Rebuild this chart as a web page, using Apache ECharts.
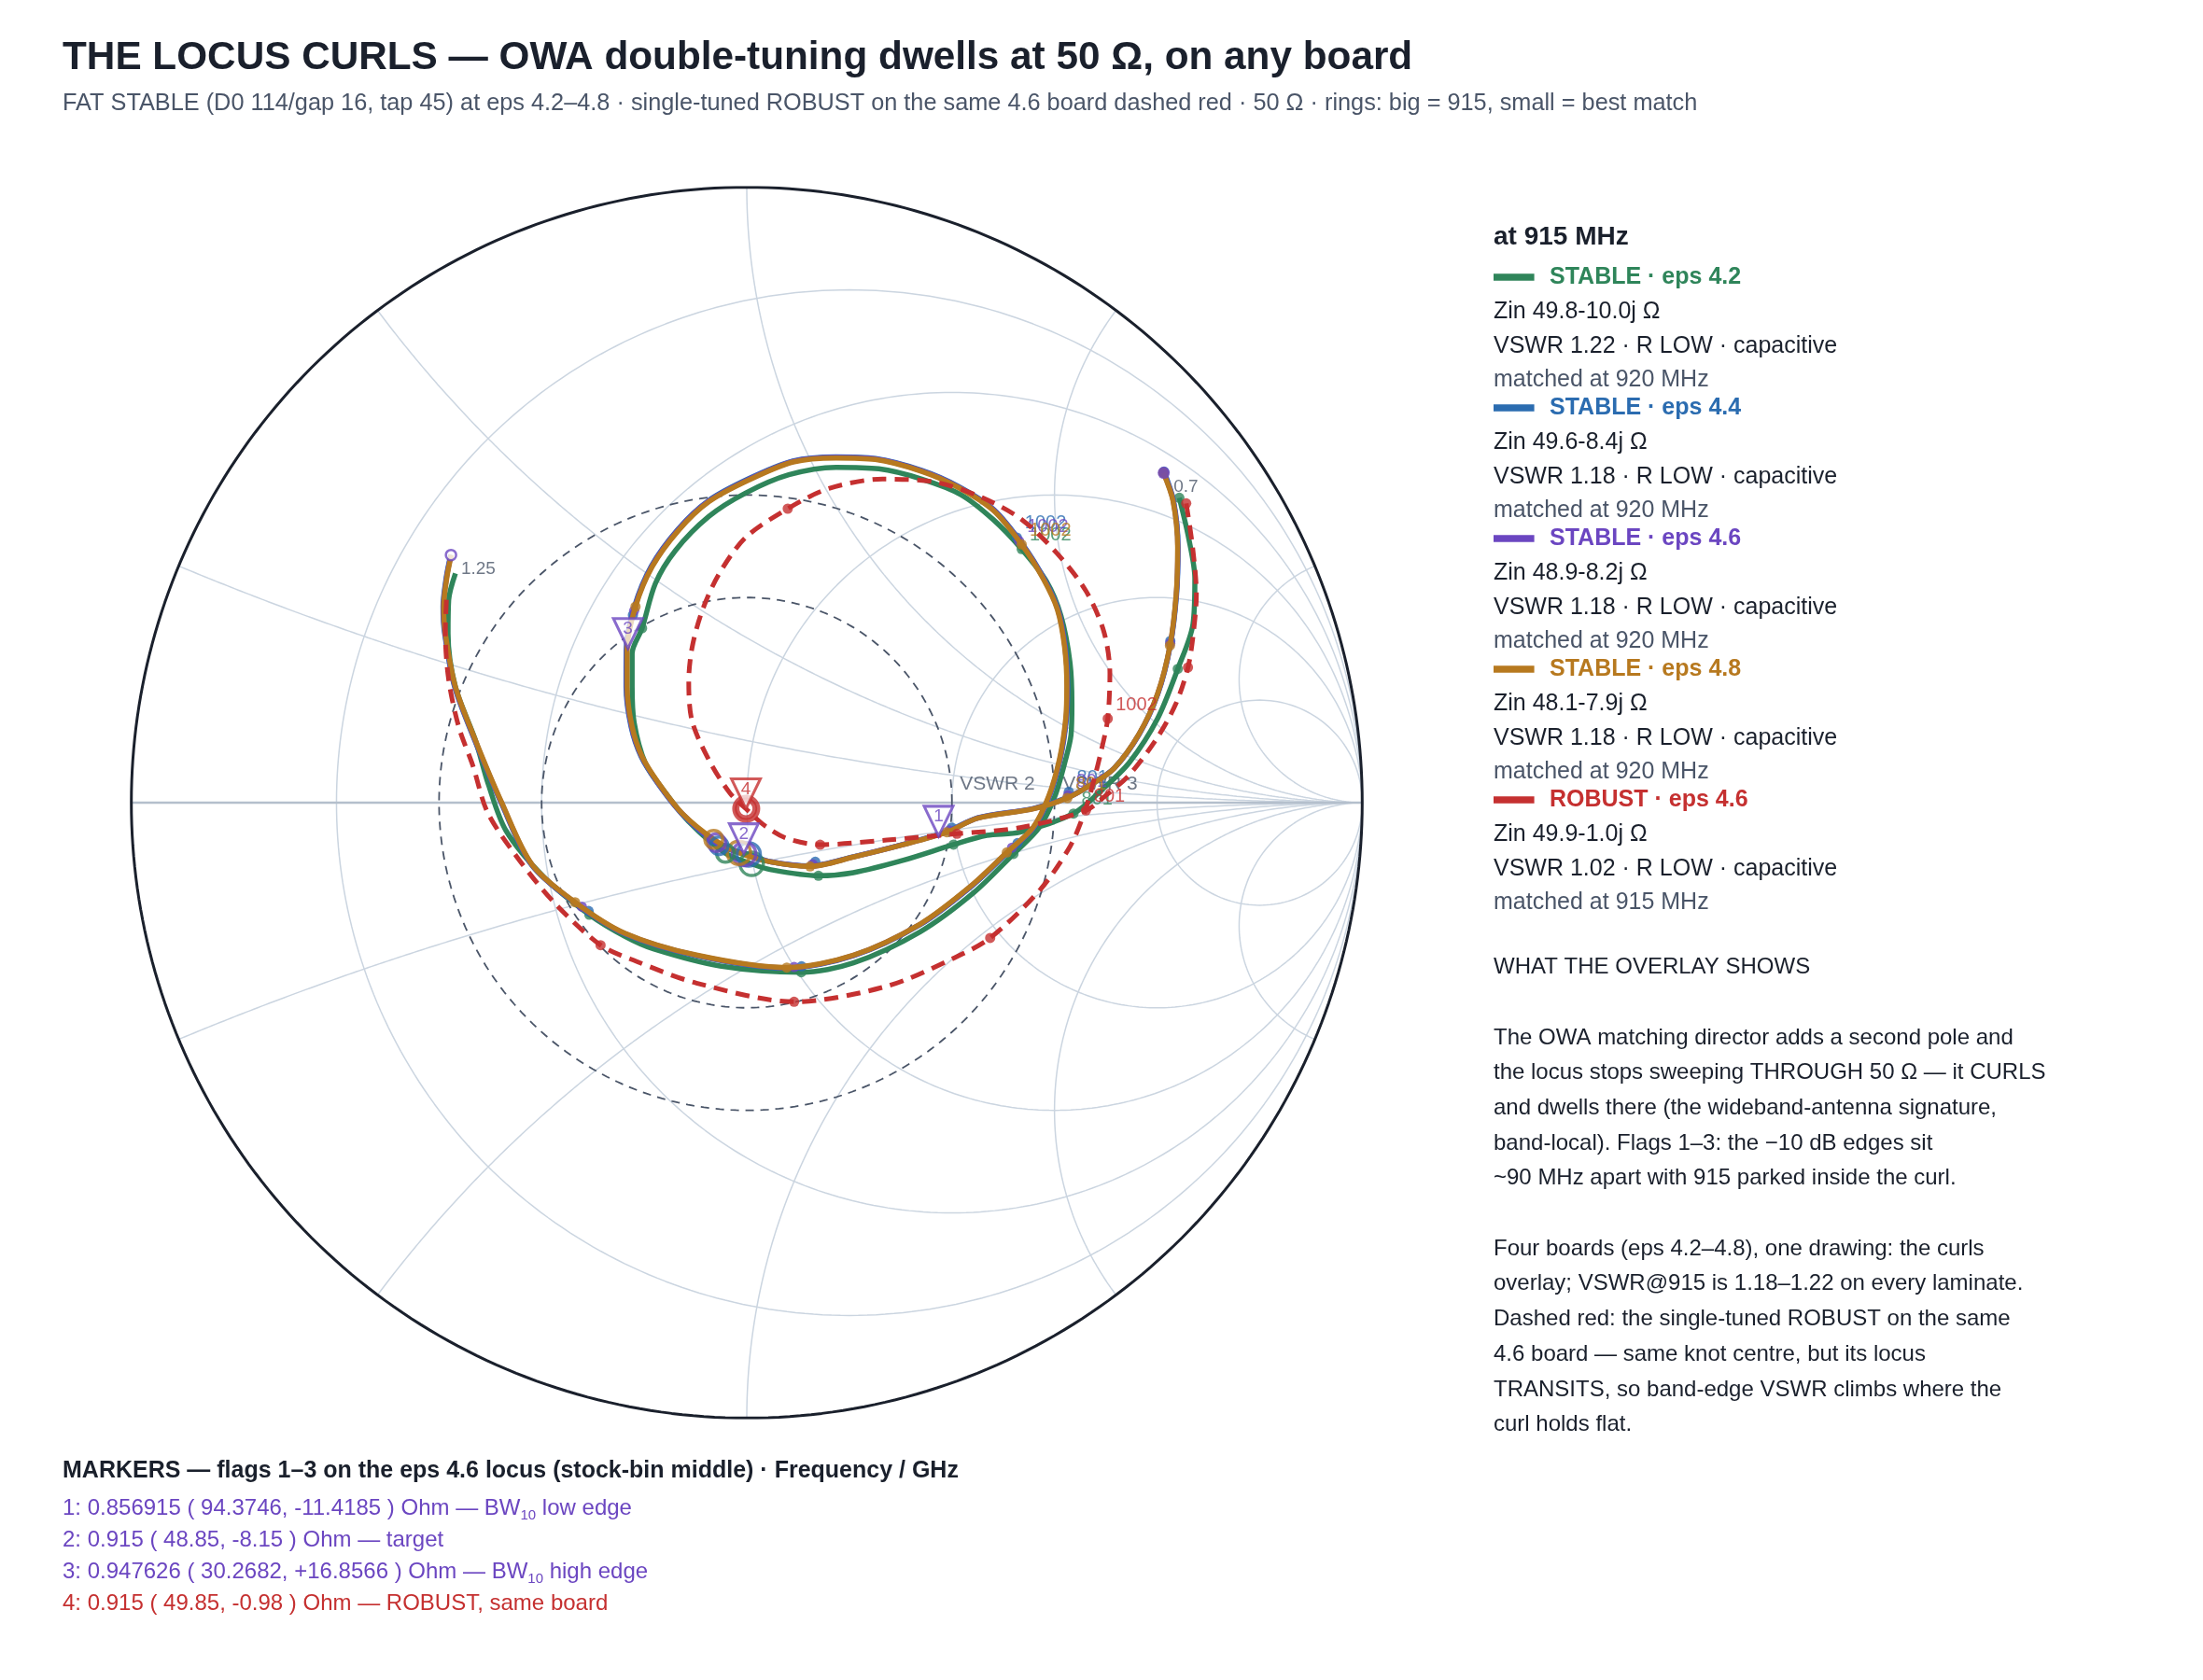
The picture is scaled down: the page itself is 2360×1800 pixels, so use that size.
<!DOCTYPE html>
<html>
<head>
<meta charset="utf-8">
<script src="https://cdn.jsdelivr.net/npm/echarts@6/dist/echarts.min.js"></script>
<style>
  html, body { margin: 0; padding: 0; background: #fff; }
  #main { width: 2360px; height: 1800px; }
</style>
</head>
<body>
<div id="main"></div>
<script>
// reflection-coefficient points [re, im], 0.70 -> 1.25 GHz
var locus42 = [[0.7028,0.4955],[0.7180,0.4300],[0.7281,0.3640],[0.7250,0.2900],[0.7003,0.2174],[0.6674,0.1365],[0.6219,0.0657],[0.5764,0.0202],[0.5309,-0.0177],[0.4442,-0.0480],[0.3900,-0.0531],[0.3359,-0.0682],[0.2546,-0.0935],[0.1733,-0.1137],[0.1165,-0.1188],[0.0379,-0.1087],[0.0080,-0.0994],[-0.0347,-0.0823],[-0.0950,-0.0300],[-0.1350,0.0200],[-0.1647,0.0639],[-0.1830,0.1300],[-0.1863,0.1900],[-0.1863,0.2427],[-0.1701,0.2835],[-0.1484,0.3564],[-0.1158,0.4100],[-0.0618,0.4650],[-0.0022,0.5030],[0.0683,0.5328],[0.1449,0.5450],[0.2146,0.5425],[0.2843,0.5258],[0.3481,0.5005],[0.4004,0.4601],[0.4467,0.4120],[0.4874,0.3589],[0.5106,0.3033],[0.5252,0.2275],[0.5283,0.1600],[0.5268,0.1100],[0.5182,0.0708],[0.5005,0.0101],[0.4752,-0.0404],[0.4333,-0.0834],[0.3683,-0.1466],[0.2818,-0.2098],[0.1733,-0.2604],[0.0886,-0.2756],[-0.0434,-0.2654],[-0.1517,-0.2376],[-0.1978,-0.2174],[-0.2558,-0.1820],[-0.3293,-0.1213],[-0.3912,-0.0455],[-0.4200,0.0300],[-0.4410,0.1017],[-0.4735,0.1884],[-0.4854,0.2751],[-0.4844,0.3294],[-0.4734,0.3727]];
var locus44 = [[0.6780,0.5380],[0.6935,0.4906],[0.7008,0.4146],[0.6984,0.3387],[0.6882,0.2553],[0.6680,0.1769],[0.6378,0.1115],[0.5972,0.0562],[0.5618,0.0310],[0.5215,0.0085],[0.4662,-0.0092],[0.3752,-0.0246],[0.3250,-0.0470],[0.2546,-0.0676],[0.1733,-0.0878],[0.1029,-0.1028],[0.0385,-0.0960],[0.0031,-0.0841],[-0.0450,-0.0700],[-0.1065,-0.0170],[-0.1448,0.0315],[-0.1718,0.0750],[-0.1880,0.1232],[-0.1962,0.1885],[-0.1960,0.2481],[-0.1825,0.3190],[-0.1552,0.3845],[-0.1118,0.4445],[-0.0628,0.4905],[0.0025,0.5262],[0.0748,0.5552],[0.1449,0.5620],[0.2092,0.5592],[0.2850,0.5398],[0.3432,0.5143],[0.4015,0.4763],[0.4478,0.4205],[0.4828,0.3648],[0.5060,0.3140],[0.5178,0.2530],[0.5215,0.1900],[0.5195,0.1365],[0.5094,0.0706],[0.4916,0.0098],[0.4662,-0.0408],[0.4236,-0.0812],[0.3638,-0.1370],[0.2826,-0.1978],[0.1738,-0.2486],[0.0652,-0.2690],[-0.0818,-0.2487],[-0.1985,-0.2132],[-0.2798,-0.1625],[-0.3498,-0.1010],[-0.3988,-0.0011],[-0.4422,0.1017],[-0.4748,0.1884],[-0.4910,0.2751],[-0.4936,0.3185],[-0.4882,0.3672],[-0.4810,0.4030]];
var locus46 = [[0.6775,0.5360],[0.6930,0.4906],[0.7004,0.4146],[0.6980,0.3387],[0.6879,0.2553],[0.6677,0.1769],[0.6374,0.1113],[0.5970,0.0559],[0.5615,0.0306],[0.5212,0.0080],[0.4660,-0.0097],[0.3751,-0.0250],[0.3250,-0.0475],[0.2546,-0.0679],[0.1733,-0.0881],[0.1029,-0.1032],[0.0382,-0.0960],[-0.0048,-0.0828],[-0.0490,-0.0650],[-0.1058,-0.0171],[-0.1439,0.0313],[-0.1709,0.0748],[-0.1872,0.1232],[-0.1953,0.1885],[-0.1952,0.2481],[-0.1816,0.3188],[-0.1544,0.3840],[-0.1111,0.4438],[-0.0622,0.4898],[0.0030,0.5253],[0.0750,0.5544],[0.1449,0.5611],[0.2090,0.5585],[0.2846,0.5391],[0.3428,0.5137],[0.4010,0.4758],[0.4472,0.4200],[0.4822,0.3644],[0.5054,0.3137],[0.5171,0.2528],[0.5208,0.1900],[0.5189,0.1365],[0.5088,0.0707],[0.4910,0.0100],[0.4657,-0.0406],[0.4230,-0.0810],[0.3634,-0.1368],[0.2822,-0.1975],[0.1736,-0.2482],[0.0651,-0.2685],[-0.0818,-0.2482],[-0.1982,-0.2128],[-0.2794,-0.1622],[-0.3494,-0.1008],[-0.3982,-0.0011],[-0.4416,0.1017],[-0.4742,0.1884],[-0.4904,0.2751],[-0.4930,0.3185],[-0.4876,0.3672],[-0.4806,0.4025]];
var locus48 = [[0.6770,0.5360],[0.6925,0.4906],[0.7001,0.4146],[0.6977,0.3387],[0.6876,0.2553],[0.6674,0.1769],[0.6371,0.1112],[0.5967,0.0556],[0.5613,0.0303],[0.5209,0.0076],[0.4658,-0.0101],[0.3750,-0.0253],[0.3250,-0.0480],[0.2546,-0.0682],[0.1733,-0.0884],[0.1029,-0.1036],[0.0379,-0.0961],[-0.0128,-0.0816],[-0.0537,-0.0596],[-0.1051,-0.0173],[-0.1430,0.0312],[-0.1700,0.0747],[-0.1863,0.1232],[-0.1944,0.1885],[-0.1944,0.2481],[-0.1808,0.3185],[-0.1537,0.3835],[-0.1104,0.4431],[-0.0616,0.4891],[0.0034,0.5244],[0.0752,0.5536],[0.1449,0.5602],[0.2088,0.5577],[0.2843,0.5384],[0.3423,0.5131],[0.4004,0.4752],[0.4467,0.4196],[0.4816,0.3640],[0.5048,0.3134],[0.5164,0.2527],[0.5200,0.1900],[0.5182,0.1365],[0.5081,0.0708],[0.4904,0.0101],[0.4651,-0.0404],[0.4225,-0.0809],[0.3629,-0.1365],[0.2818,-0.1972],[0.1733,-0.2478],[0.0650,-0.2680],[-0.0817,-0.2477],[-0.1978,-0.2123],[-0.2790,-0.1618],[-0.3489,-0.1006],[-0.3976,-0.0011],[-0.4410,0.1017],[-0.4735,0.1884],[-0.4898,0.2751],[-0.4925,0.3185],[-0.4871,0.3672],[-0.4800,0.4025]];
var locusRobust = [[0.7140,0.4864],[0.7245,0.4146],[0.7306,0.3387],[0.7250,0.2700],[0.7169,0.2199],[0.6977,0.1618],[0.6674,0.1062],[0.6219,0.0455],[0.5815,0.0101],[0.5511,-0.0126],[0.4442,-0.0405],[0.3415,-0.0505],[0.2276,-0.0607],[0.1192,-0.0683],[0.0650,-0.0581],[0.0300,-0.0380],[-0.0014,-0.0098],[-0.0271,0.0152],[-0.0596,0.0657],[-0.0889,0.1327],[-0.0943,0.1977],[-0.0889,0.2519],[-0.0726,0.3115],[-0.0455,0.3710],[-0.0022,0.4306],[0.0666,0.4778],[0.1334,0.5106],[0.2205,0.5258],[0.3075,0.5207],[0.3830,0.4955],[0.4468,0.4601],[0.5048,0.4044],[0.5512,0.3438],[0.5802,0.2780],[0.5900,0.2100],[0.5865,0.1365],[0.5763,0.0859],[0.5637,0.0354],[0.5490,-0.0150],[0.5254,-0.0708],[0.4766,-0.1415],[0.3955,-0.2199],[0.3359,-0.2528],[0.2276,-0.2983],[0.0769,-0.3236],[-0.0817,-0.2932],[-0.1796,-0.2578],[-0.2376,-0.2315],[-0.3134,-0.1618],[-0.3751,-0.0860],[-0.4215,-0.0152],[-0.4450,0.0600],[-0.4681,0.1235],[-0.4844,0.2000],[-0.4898,0.2751],[-0.4880,0.3300]];

// sample dots (MHz) on each locus
var dotFreqs = [700, 750, 801, 851, 901, 951, 1002, 1052, 1102, 1153];
var taggedFreqs = [801, 1002];
var dots42 = [[0.7028,0.4955],[0.7003,0.2174],[0.5309,-0.0177],[0.3359,-0.0682],[0.1165,-0.1188],[-0.1701,0.2835],[0.4467,0.4120],[0.4333,-0.0834],[0.0886,-0.2756],[-0.2558,-0.1820]];
var dots44 = [[0.6780,0.5380],[0.6882,0.2629],[0.5233,0.0177],[0.3331,-0.0405],[0.1113,-0.0961],[-0.1850,0.3050],[0.4389,0.4308],[0.4400,-0.0657],[0.0890,-0.2660],[-0.2570,-0.1760]];
var dots46 = [[0.6775,0.5360],[0.6880,0.2590],[0.5220,0.0120],[0.3290,-0.0450],[0.1070,-0.1000],[-0.1830,0.3120],[0.4424,0.4253],[0.4310,-0.0730],[0.0770,-0.2670],[-0.2680,-0.1690]];
var dots48 = [[0.6770,0.5360],[0.6876,0.2553],[0.5209,0.0076],[0.3250,-0.0480],[0.1029,-0.1036],[-0.1808,0.3185],[0.4467,0.4196],[0.4225,-0.0809],[0.0650,-0.2680],[-0.2790,-0.1618]];
var dotsRobust = [[0.7140,0.4864],[0.7169,0.2199],[0.5511,-0.0126],[0.3415,-0.0505],[0.1192,-0.0683],[0.0666,0.4778],[0.5865,0.1365],[0.3955,-0.2199],[0.0769,-0.3236],[-0.2376,-0.2315]];

// best-match rings (920 MHz for STABLE, 915 for ROBUST)
var bestMatch = [[-0.0347,-0.0823],[-0.0450,-0.0700],[-0.0490,-0.0650],[-0.0537,-0.0596],[-0.0014,-0.0098]];

// legend table at 915 MHz
var boardNames = ['STABLE · eps 4.2', 'STABLE · eps 4.4', 'STABLE · eps 4.6', 'STABLE · eps 4.8', 'ROBUST · eps 4.6'];
var zinR = [49.8, 49.6, 48.9, 48.1, 49.9];
var zinX = [-10.0, -8.4, -8.2, -7.9, -1.0];
var vswr915 = [1.22, 1.18, 1.18, 1.18, 1.02];
var matchedAt = [920, 920, 920, 920, 915];

// marker flags
var markerFreq = ['0.856915', '0.915', '0.947626', '0.915'];
var markerR = [94.3746, 48.85, 30.2682, 49.85];
var markerX = [-11.4185, -8.15, 16.8566, -0.98];
var markerBw = [true, false, true, false];
var markerNote = ['low edge', 'target', 'high edge', 'ROBUST, same board'];

// smith grid values
var rGrid = [0.2, 0.5, 1, 2, 5];
var xGrid = [0.2, 0.5, 1, 2, 5, -0.2, -0.5, -1, -2, -5];
var vswrRings = [2, 3];

var FONT = '"Liberation Sans", Arial, Helvetica, sans-serif';
var GREEN = '#2f855a', BLUE = '#2b6cb0', PURPLE = '#6b46c1', GOLD = '#b7791f', RED = '#c53030';
var INK = '#1a202c', SLATE = '#4a5568';
var colors = [GREEN, BLUE, PURPLE, GOLD, RED];

// z = R + jX (ohms) -> reflection coefficient
function gammaOf(r, x) {
  var den = (r + 1) * (r + 1) + x * x;
  return [((r - 1) * (r + 1) + x * x) / den, (2 * x) / den];
}
function zToGamma(R, X) { return gammaOf(R / 50, X / 50); }

function rCircle(r) {
  var pts = [], c = r / (r + 1), rad = 1 / (r + 1);
  for (var i = 0; i <= 360; i++) {
    var t = i * Math.PI / 180;
    pts.push([c + rad * Math.cos(t), rad * Math.sin(t)]);
  }
  return pts;
}
function xArc(x) {
  var pts = [], cy = 1 / x, rad = Math.abs(1 / x);
  var e = gammaOf(0, x);
  var a0 = Math.atan2(e[1] - cy, e[0] - 1);
  if (a0 < 0) a0 += 2 * Math.PI;
  var a1 = x > 0 ? 1.5 * Math.PI : 0.5 * Math.PI;
  for (var i = 0; i <= 300; i++) {
    var a = a0 + (a1 - a0) * i / 300;
    pts.push([1 + rad * Math.cos(a), cy + rad * Math.sin(a)]);
  }
  return pts;
}
function ring(g) {
  var pts = [];
  for (var i = 0; i <= 360; i++) {
    var t = i * Math.PI / 180;
    pts.push([g * Math.cos(t), g * Math.sin(t)]);
  }
  return pts;
}

var chartDom = document.getElementById('main');
var myChart = echarts.init(chartDom, null, { renderer: 'canvas' });

var series = [];

// grid
rGrid.forEach(function(r) {
  series.push({ type: 'line', data: rCircle(r), symbol: 'none', silent: true, z: 1,
    lineStyle: { color: '#cbd5e0', width: 1.5 } });
});
xGrid.forEach(function(x) {
  series.push({ type: 'line', data: xArc(x), symbol: 'none', silent: true, z: 1,
    lineStyle: { color: '#cbd5e0', width: 1.5 } });
});
series.push({ type: 'line', data: [[-1, 0], [1, 0]], symbol: 'none', silent: true, z: 2,
  lineStyle: { color: '#b4bfcc', width: 2.5 } });
series.push({ type: 'line', data: rCircle(0), symbol: 'none', silent: true, z: 3,
  lineStyle: { color: INK, width: 3 } });

// constant VSWR rings
vswrRings.forEach(function(s) {
  var g = (s - 1) / (s + 1);
  series.push({ type: 'line', data: ring(g), symbol: 'none', silent: true, z: 4,
    lineStyle: { color: SLATE, width: 1.8, type: [9, 7] } });
  series.push({ type: 'scatter', data: [[g, 0]], symbolSize: 1, z: 4, silent: true,
    itemStyle: { color: 'rgba(0,0,0,0)' },
    label: { show: true, formatter: 'VSWR ' + s, position: 'right', distance: 8, offset: [0, -20],
      color: SLATE, fontSize: 21, fontFamily: FONT } });
});

var loci = [locus42, locus44, locus46, locus48, locusRobust];
var dots = [dots42, dots44, dots46, dots48, dotsRobust];

loci.forEach(function(pts, k) {
  var robust = k === 4;
  series.push({ type: 'line', name: boardNames[k], data: pts, smooth: 0.3, symbol: 'none',
    silent: true, z: 10 + k,
    lineStyle: { color: colors[k], width: robust ? 5 : 5.5, type: robust ? [15, 9] : 'solid' } });
  series.push({ type: 'scatter', silent: true, z: 10 + k, symbolSize: 11,
    itemStyle: { color: colors[k] },
    data: dots[k].map(function(p, i) {
      var item = { value: p };
      if (taggedFreqs.indexOf(dotFreqs[i]) >= 0) {
        item.label = { show: true, formatter: String(dotFreqs[i]), position: 'right', distance: 3,
          offset: [0, -15], color: colors[k], fontSize: 20, fontFamily: FONT };
      }
      return item;
    }) });
});

// start / end of the eps 4.6 locus
series.push({ type: 'scatter', silent: true, z: 20, data: [
  { value: locus46[0], symbolSize: 13, itemStyle: { color: PURPLE },
    label: { show: true, formatter: '0.7', position: 'right', distance: 4, offset: [0, 15], color: SLATE, fontSize: 19, fontFamily: FONT } },
  { value: locus46[locus46.length - 1], symbolSize: 11, itemStyle: { color: '#fff', borderColor: PURPLE, borderWidth: 2.5 },
    label: { show: true, formatter: '1.25', position: 'right', distance: 4, offset: [0, 15], color: SLATE, fontSize: 19, fontFamily: FONT } }
] });

// rings: big = 915, small = best match
series.push({ type: 'scatter', silent: true, z: 22, symbolSize: 25,
  itemStyle: { color: 'rgba(0,0,0,0)', borderWidth: 3.5 },
  data: zinR.map(function(R, k) {
    return { value: zToGamma(R, zinX[k]), itemStyle: { borderColor: colors[k], borderWidth: k === 4 ? 5 : 3.5 } };
  }) });
series.push({ type: 'scatter', silent: true, z: 22, symbolSize: 19,
  itemStyle: { color: 'rgba(0,0,0,0)', borderWidth: 3.5 },
  data: bestMatch.map(function(p, k) {
    return { value: p, itemStyle: { borderColor: colors[k], borderWidth: k === 4 ? 5 : 3.5 } };
  }) });

// flags
series.push({ type: 'scatter', silent: true, z: 30,
  symbol: 'path://M0,0L30,0L15,32Z', symbolSize: [31, 32], symbolOffset: [0, -16],
  data: markerR.map(function(R, i) {
    var c = i === 3 ? RED : PURPLE;
    return { value: zToGamma(R, markerX[i]),
      itemStyle: { color: 'rgba(255,255,255,0.9)', borderColor: c, borderWidth: 3 },
      label: { show: true, formatter: String(i + 1), position: 'inside', offset: [0, -5],
        color: c, fontSize: 19, fontFamily: FONT } };
  }) });

// ---- side texts ----
var graphic = [];
function txt(x, y, text, font, fill) {
  graphic.push({ type: 'text', x: x, y: y, silent: true,
    style: { text: text, font: font, fill: fill, textAlign: 'left', textVerticalAlign: 'middle',
      align: 'left', verticalAlign: 'middle' } });
}

txt(67, 62, 'THE LOCUS CURLS — OWA double-tuning dwells at 50 Ω, on any board', 'bold 42.3px ' + FONT, INK);
txt(67, 111, 'FAT STABLE (D0 114/gap 16, tap 45) at eps 4.2–4.8 · single-tuned ROBUST on the same 4.6 board dashed red · 50 Ω · rings: big = 915, small = best match', '25.3px ' + FONT, SLATE);

txt(1600, 254, 'at 915 MHz', 'bold 28px ' + FONT, INK);
boardNames.forEach(function(name, k) {
  var y0 = 297 + k * 140;
  graphic.push({ type: 'rect', silent: true, shape: { x: 1600, y: y0 - 3.8, width: 43.6, height: 7.6 },
    style: { fill: colors[k] } });
  txt(1660, y0, name, 'bold 25px ' + FONT, colors[k]);
  var xs = (zinX[k] < 0 ? '-' : '+') + Math.abs(zinX[k]).toFixed(1);
  txt(1600, y0 + 37.6, 'Zin ' + zinR[k].toFixed(1) + xs + 'j Ω', '25px ' + FONT, INK);
  txt(1600, y0 + 73.8, 'VSWR ' + vswr915[k].toFixed(2) + ' · ' + (zinR[k] < 50 ? 'R LOW' : 'R HIGH') + ' · ' +
    (zinX[k] < 0 ? 'capacitive' : 'inductive'), '25px ' + FONT, INK);
  txt(1600, y0 + 110, 'matched at ' + matchedAt[k] + ' MHz', '25px ' + FONT, SLATE);
});

var notes = [
  'WHAT THE OVERLAY SHOWS',
  '',
  'The OWA matching director adds a second pole and',
  'the locus stops sweeping THROUGH 50 Ω — it CURLS',
  'and dwells there (the wideband-antenna signature,',
  'band-local). Flags 1–3: the −10 dB edges sit',
  '~90 MHz apart with 915 parked inside the curl.',
  '',
  'Four boards (eps 4.2–4.8), one drawing: the curls',
  'overlay; VSWR@915 is 1.18–1.22 on every laminate.',
  'Dashed red: the single-tuned ROBUST on the same',
  '4.6 board — same knot centre, but its locus',
  'TRANSITS, so band-edge VSWR climbs where the',
  'curl holds flat.'
];
notes.forEach(function(line, i) {
  if (line) txt(1600, 1036.5 + i * 37.7, line, '24px ' + FONT, INK);
});

txt(67, 1576, 'MARKERS — flags 1–3 on the eps 4.6 locus (stock-bin middle) · Frequency / GHz', 'bold 25px ' + FONT, INK);
markerR.forEach(function(R, i) {
  var c = i === 3 ? RED : PURPLE;
  var xs = markerX[i] > 0 ? '+' + markerX[i] : String(markerX[i]);
  var head = (i + 1) + ': ' + markerFreq[i] + ' ( ' + R + ', ' + xs + ' ) Ohm — ';
  var text = markerBw[i] ? '{a|' + head + 'BW}{s|10}{a| ' + markerNote[i] + '}' : '{a|' + head + markerNote[i] + '}';
  graphic.push({ type: 'text', x: 67, y: 1616 + i * 34, silent: true,
    style: { text: text, textAlign: 'left', textVerticalAlign: 'middle', align: 'left', verticalAlign: 'middle',
      rich: {
        a: { fontSize: 24, fontFamily: FONT, fill: c, lineHeight: 30 },
        s: { fontSize: 15, fontFamily: FONT, fill: c, lineHeight: 30, verticalAlign: 'bottom' }
      } } });
});

var option = {
  backgroundColor: '#ffffff',
  animation: false,
  textStyle: { fontFamily: FONT },
  grid: { left: 140.7, top: 200.7, width: 1318.6, height: 1318.6 },
  xAxis: { type: 'value', min: -1, max: 1, show: false },
  yAxis: { type: 'value', min: -1, max: 1, show: false },
  series: series,
  graphic: graphic
};
option && myChart.setOption(option);
</script>
</body>
</html>
